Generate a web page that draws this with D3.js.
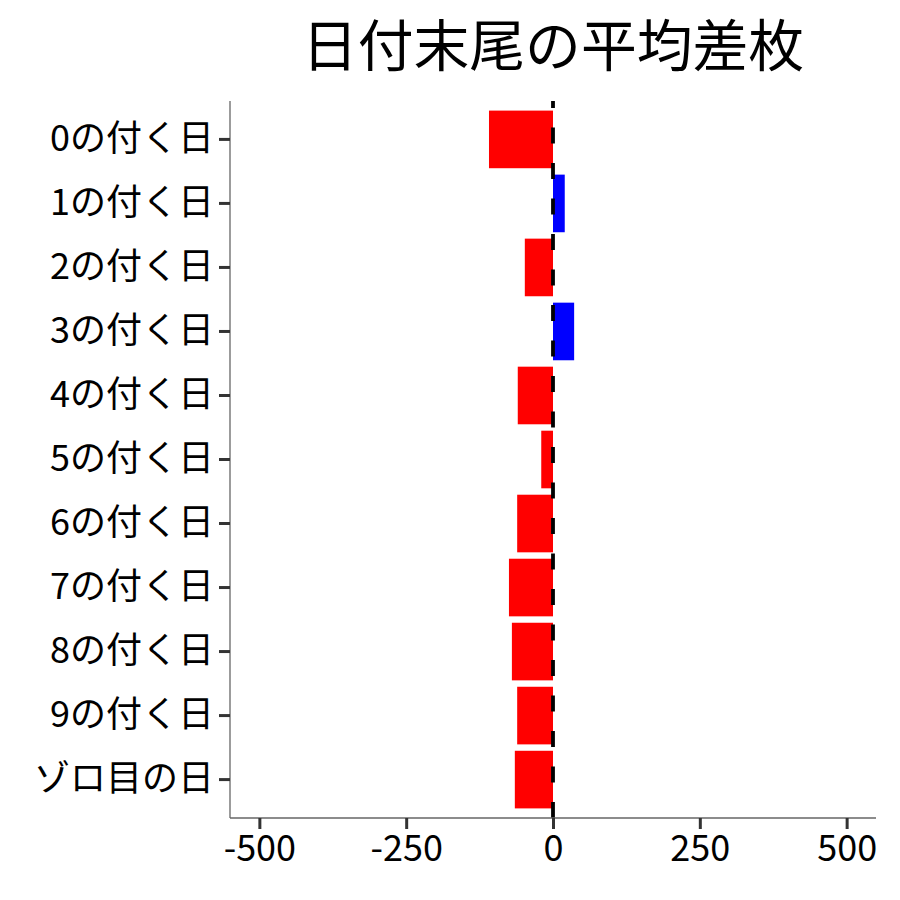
<!DOCTYPE html>
<html>
<head>
<meta charset="utf-8">
<script src="https://cdn.jsdelivr.net/npm/d3@7"></script>
<style>
  body { margin: 0; background: #fff; }
  text { font-family: "Noto Sans CJK JP", "Noto Sans", sans-serif; }
</style>
</head>
<body>
<div id="chart"></div>
<script>
/* DATA */
const categories = ["0の付く日", "1の付く日", "2の付く日", "3の付く日", "4の付く日",
  "5の付く日", "6の付く日", "7の付く日", "8の付く日", "9の付く日", "ゾロ目の日"];
const values = [-109, 20, -48, 36, -60, -20, -61, -75, -70, -61, -65];
const xTicks = [-500, -250, 0, 250, 500];
const title = "日付末尾の平均差枚";

/* LAYOUT */
const width = 900, height = 900;
const margin = { top: 101, right: 24, bottom: 82, left: 230 };

const svg = d3.select("#chart").append("svg")
  .attr("width", width)
  .attr("height", height);

// ggplot style expansion: 5% on continuous, 0.6 on discrete
const xScale = d3.scaleLinear()
  .domain([-550, 550])
  .range([margin.left, width - margin.right]);

const yScale = d3.scaleBand()
  .domain(categories)
  .range([margin.top, height - margin.bottom])
  .paddingInner(0.1)
  .paddingOuter(0.15);

// bars
svg.selectAll(".bar")
  .data(categories.map((c, i) => ({ cat: c, val: values[i] })))
  .join("rect")
  .attr("class", "bar")
  .attr("x", d => xScale(Math.min(0, d.val)))
  .attr("width", d => Math.abs(xScale(d.val) - xScale(0)))
  .attr("y", d => yScale(d.cat))
  .attr("height", yScale.bandwidth())
  .attr("fill", d => d.val < 0 ? "#ff0000" : "#0000ff");

// dashed zero line, drawn bottom-up
svg.append("line")
  .attr("x1", xScale(0)).attr("x2", xScale(0))
  .attr("y1", height - margin.bottom).attr("y2", margin.top)
  .attr("stroke", "#000")
  .attr("stroke-width", 3.8)
  .attr("stroke-dasharray", "16,19.5");

// axes
const yAxis = svg.append("g")
  .attr("transform", `translate(${margin.left},0)`)
  .call(d3.axisLeft(yScale).tickSize(11).tickPadding(5));

const xAxis = svg.append("g")
  .attr("transform", `translate(0,${height - margin.bottom})`)
  .call(d3.axisBottom(xScale).tickValues(xTicks).tickSize(11).tickPadding(6)
    .tickFormat(d => String(d)));

[yAxis, xAxis].forEach(g => {
  g.select(".domain").attr("stroke", "#666").attr("stroke-width", 1.3);
  g.selectAll(".tick line").attr("stroke", "#333").attr("stroke-width", 3);
  g.selectAll(".tick text").attr("fill", "#000").style("font-size", "36px")
    .style("font-family", '"Noto Sans CJK JP", sans-serif');
});
// domain lines without outer tick stubs
yAxis.select(".domain").attr("d", `M0,${margin.top}V${height - margin.bottom}`);
xAxis.select(".domain").attr("d", `M${margin.left},0H${width - margin.right}`);

// title
svg.append("text")
  .attr("x", (margin.left + width - margin.right) / 2)
  .attr("y", 66)
  .attr("text-anchor", "middle")
  .style("font-size", "55.8px")
  .attr("fill", "#000")
  .text(title);
</script>
</body>
</html>
